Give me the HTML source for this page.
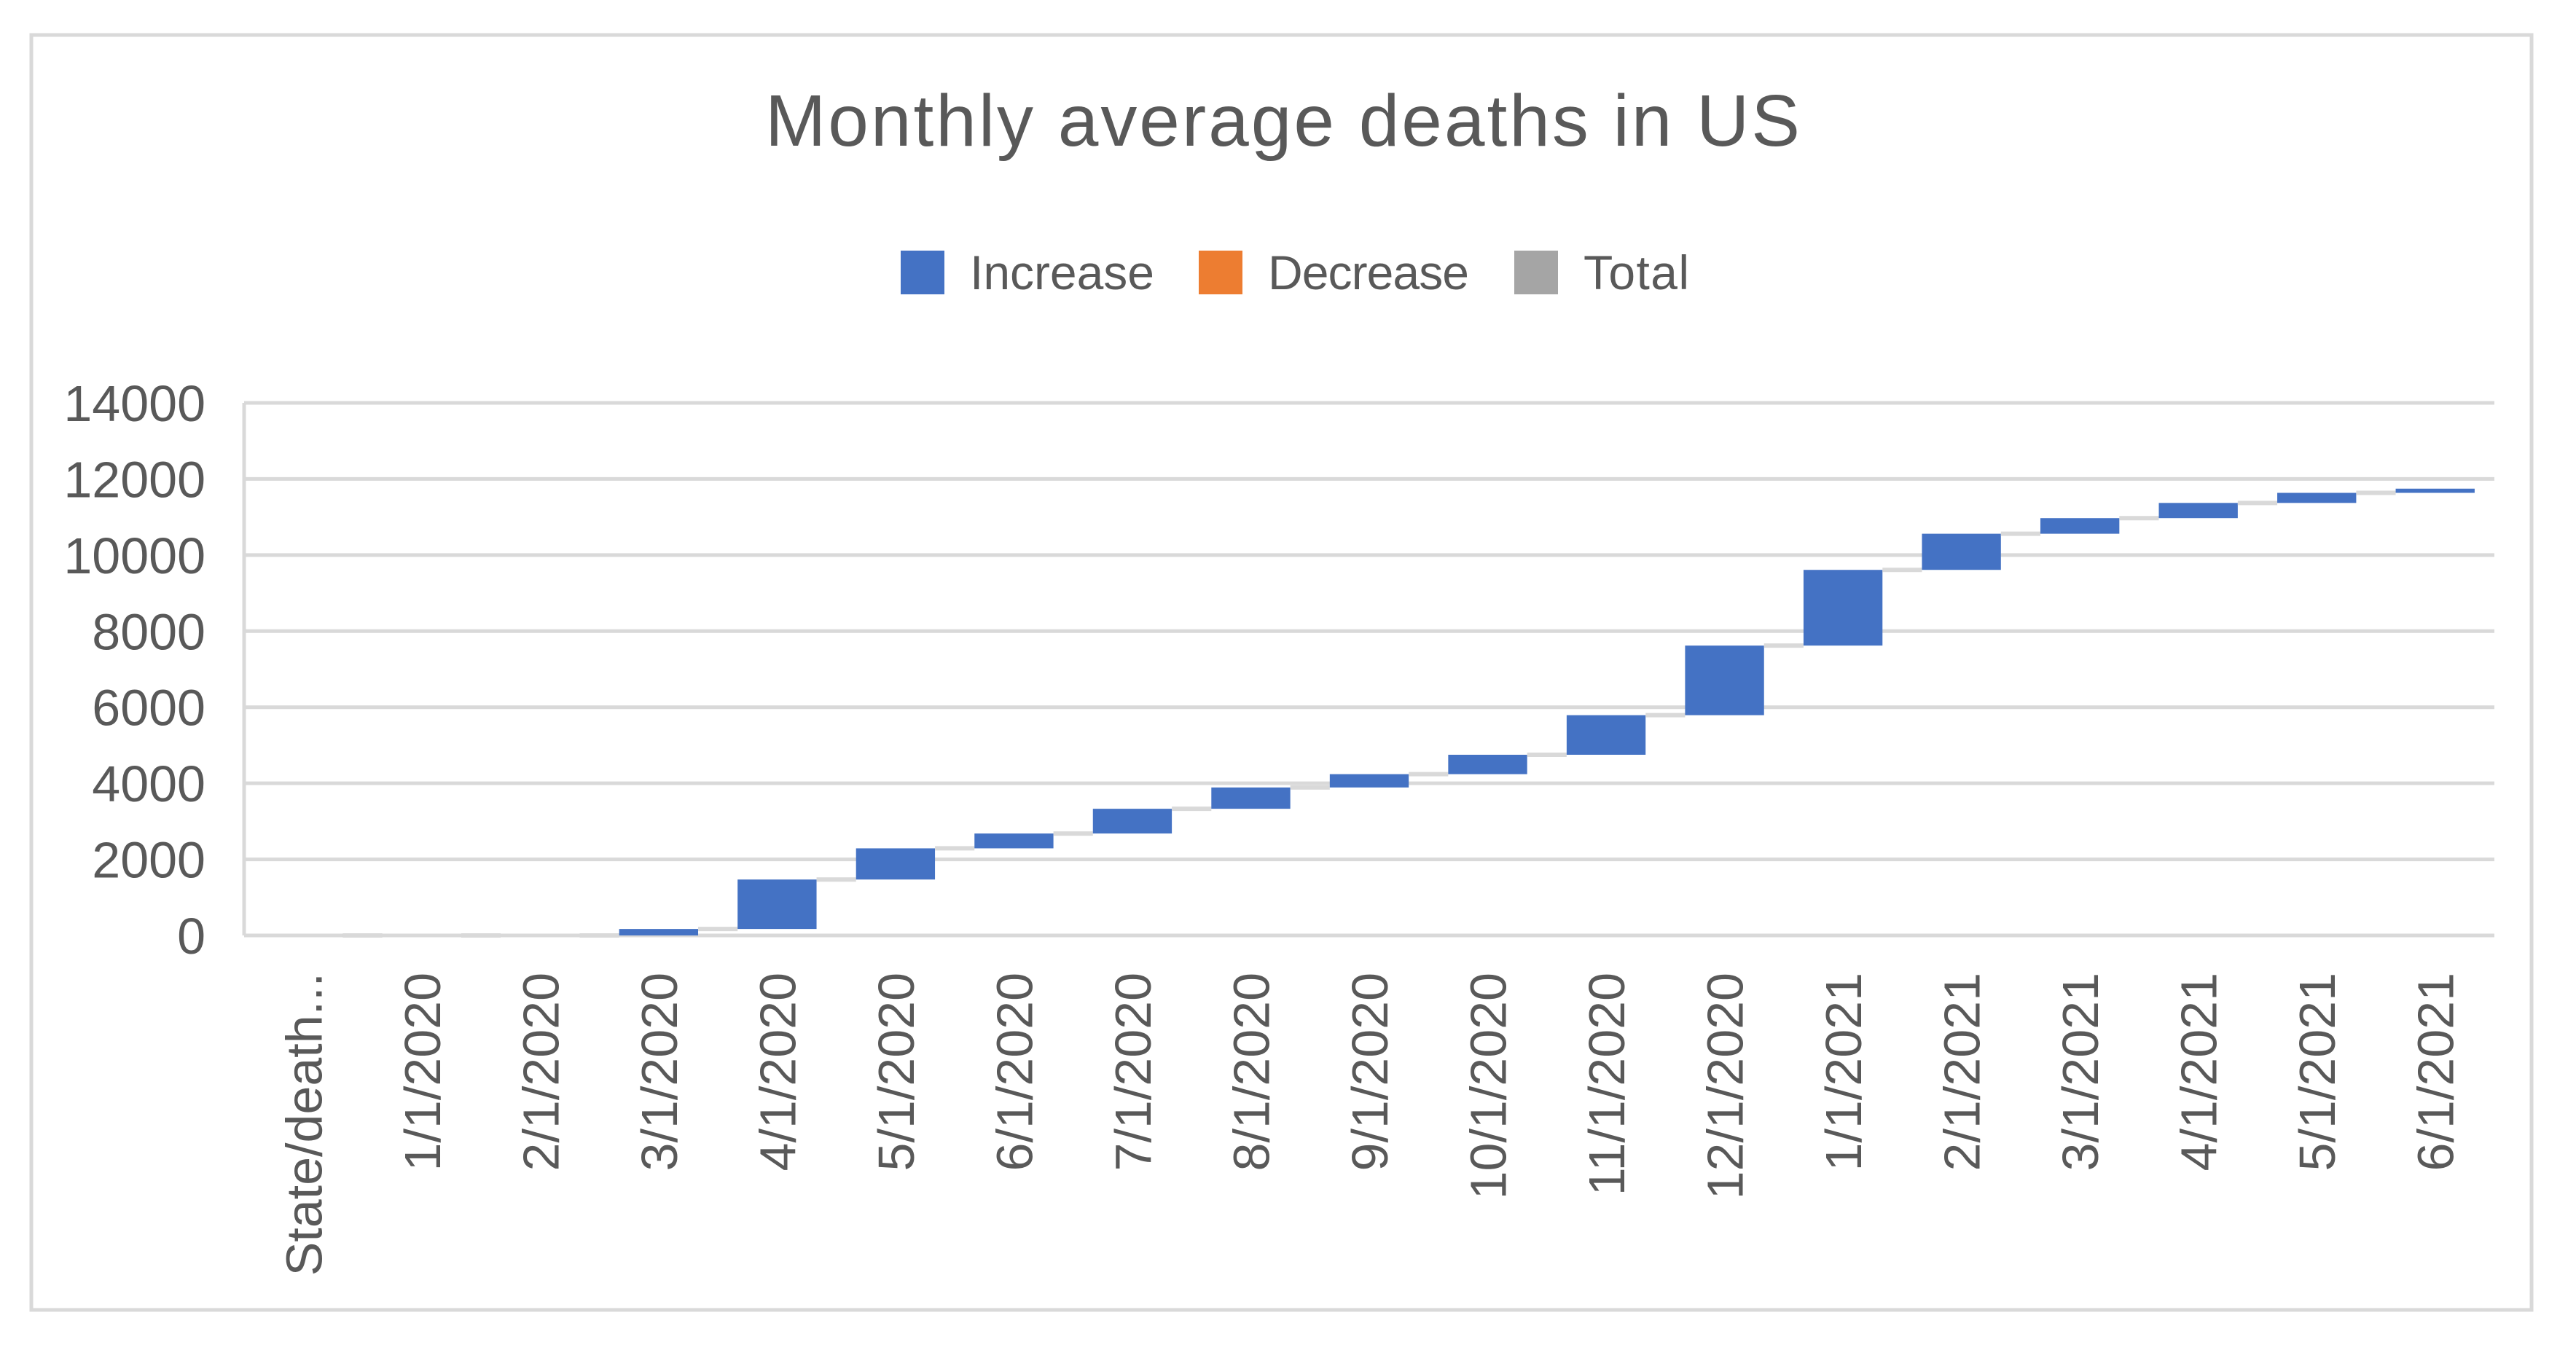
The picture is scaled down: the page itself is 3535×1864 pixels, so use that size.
<!DOCTYPE html>
<html><head><meta charset="utf-8"><style>
html,body{margin:0;padding:0;background:#fff;}
svg{display:block;font-family:"Liberation Sans",sans-serif;}
</style></head><body>
<svg id="chart" width="3535" height="1864" viewBox="0 0 3535 1864">
<rect x="0" y="0" width="3535" height="1864" fill="#fff"/>
<rect x="43" y="48" width="3431" height="1750" fill="#fff" stroke="#d9d9d9" stroke-width="5"/>
<text x="1760" y="200" text-anchor="middle" font-size="100" fill="#595959" textLength="1420">Monthly average deaths in US</text>
<g>
<g><rect x="1236" y="344" width="60" height="60" fill="#4472C4"/><text x="1331" y="397" font-size="66" fill="#595959" textLength="253">Increase</text></g>
<g><rect x="1645" y="344" width="60" height="60" fill="#ED7D31"/><text x="1740" y="397" font-size="66" fill="#595959" textLength="276">Decrease</text></g>
<g><rect x="2078" y="344" width="60" height="60" fill="#A5A5A5"/><text x="2173" y="397" font-size="66" fill="#595959" textLength="145">Total</text></g>
</g>
<g id="grid"></g><g id="yticks"></g><g id="bars"></g><g id="xticks"></g>
</svg>
<script>
const categories = ["State/death...","1/1/2020","2/1/2020","3/1/2020","4/1/2020","5/1/2020","6/1/2020","7/1/2020","8/1/2020","9/1/2020","10/1/2020","11/1/2020","12/1/2020","1/1/2021","2/1/2021","3/1/2021","4/1/2021","5/1/2021","6/1/2021"];
const increments = [0,0,0,170,1300,820,390,650,560,350,510,1040,1830,1990,950,410,400,265,110];
const yTicks = [0,2000,4000,6000,8000,10000,12000,14000];

const NS="http://www.w3.org/2000/svg";
const X0=335, X1=3423, Y0=1284, Y1=553, YMAX=14000;
const band=(X1-X0)/categories.length, barW=band/1.5;
const y=v=>Y0-(v/YMAX)*(Y0-Y1);
const xc=i=>X0+band*(i+0.5);
function mk(tag,attrs,parent){const e=document.createElementNS(NS,tag);for(const k in attrs)e.setAttribute(k,attrs[k]);parent.appendChild(e);return e;}
const grid=document.getElementById('grid'),yt=document.getElementById('yticks'),bars=document.getElementById('bars'),xt=document.getElementById('xticks');
yTicks.forEach(t=>{
  const l=mk('line',{x1:X0,x2:X1,y1:y(t),y2:y(t),stroke:'#d9d9d9','stroke-width':5},grid);
  
  
  const tx=mk('text',{x:282,y:y(t)+25,'text-anchor':'end','font-size':70,fill:'#595959'},yt);
  tx.textContent=t;
  
  
});
const ax=mk('line',{x1:X0,x2:X0,y1:Y1,y2:Y0,stroke:'#d9d9d9','stroke-width':5},grid);


let cum=0;
categories.forEach((c,i)=>{
  const start=cum; cum+=increments[i];
  const top=y(Math.max(start,cum)), bot=y(Math.min(start,cum));
  const r=mk('rect',{x:xc(i)-barW/2,y:top,width:barW,height:Math.max(bot-top,0),fill:increments[i]>=0?'#4472C4':'#ED7D31'},bars);
  
  
  if(i<categories.length-1){
    const cl=mk('line',{x1:xc(i)+barW/2,x2:xc(i+1)-barW/2,y1:y(cum),y2:y(cum),stroke:'#d9d9d9','stroke-width':6},bars);
    
    
  }
  const tx=mk('text',{x:0,y:0,'text-anchor':'end','font-size':70,fill:'#595959',transform:`translate(${xc(i)+25},1335) rotate(-90)`},xt);
  tx.textContent=c;
  
  
});
</script>
</body></html>
